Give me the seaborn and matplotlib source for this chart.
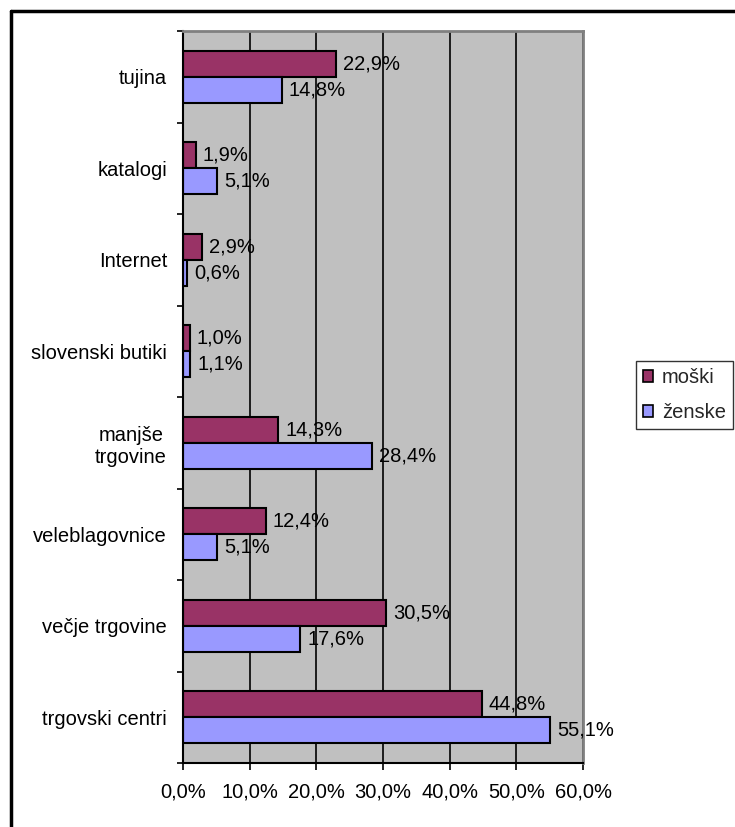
import matplotlib
matplotlib.use("Agg")
import matplotlib.pyplot as plt
import pandas as pd
import seaborn as sns
from matplotlib.lines import Line2D
from matplotlib.ticker import FuncFormatter, FixedLocator

# Data: share of respondents by shopping place, split by gender (in %)
kategorije = ["tujina", "katalogi", "Internet", "slovenski butiki",
              "manjše\ntrgovine", "veleblagovnice", "večje trgovine",
              "trgovski centri"]
spoli = ["moški", "ženske"]
moski = [22.9, 1.9, 2.9, 1.0, 14.3, 12.4, 30.5, 44.8]
zenske = [14.8, 5.1, 0.6, 1.1, 28.4, 5.1, 17.6, 55.1]
x_ticks = [0, 10, 20, 30, 40, 50, 60]
barve = ["#993366", "#9999FF"]

df = pd.DataFrame({
    "kategorija": kategorije * 2,
    "spol": [spoli[0]] * len(kategorije) + [spoli[1]] * len(kategorije),
    "delez": moski + zenske,
})


def pct(v, pos=None):
    return f"{v:.1f}%".replace(".", ",")


sns.set_theme(style="white")
plt.rcParams["font.family"] = ["Liberation Sans", "DejaVu Sans"]
FS = 14.5

W, H = 735, 827
fig = plt.figure(figsize=(W / 100, H / 100), dpi=100)
fig.patch.set_facecolor("white")
ax = fig.add_axes([183 / W, 1 - 763 / H, 400 / W, 732 / H])
ax.set_facecolor("#C0C0C0")

sns.barplot(data=df, y="kategorija", x="delez", hue="spol",
            order=kategorije, hue_order=spoli, palette=barve,
            orient="h", width=0.57, gap=0, saturation=1,
            edgecolor="black", linewidth=1.5, ax=ax)

for cont in ax.containers:
    ax.bar_label(cont, fmt=pct, padding=5, fontsize=FS, color="black")

ax.set_xlim(0, 60)
ax.set_ylim(len(kategorije) - 0.5, -0.5)
ax.set_xlabel("")
ax.set_ylabel("")

# x axis: percent ticks and vertical gridlines
ax.xaxis.set_major_locator(FixedLocator(x_ticks))
ax.xaxis.set_major_formatter(FuncFormatter(pct))
ax.tick_params(axis="x", bottom=True, length=5, width=1.2, color="black",
               direction="out", pad=9, labelsize=FS, labelcolor="black")
ax.xaxis.grid(True, color="black", linewidth=1.2)
ax.yaxis.grid(False)
ax.set_axisbelow(True)

# y axis: labels at category centres, tick marks at category boundaries
ax.set_yticks(range(len(kategorije)))
ax.set_yticklabels(kategorije, multialignment="center")
ax.yaxis.set_minor_locator(FixedLocator([i - 0.5 for i in range(len(kategorije) + 1)]))
ax.tick_params(axis="y", which="major", left=True, length=0, pad=11.5,
               labelsize=FS, labelcolor="black")
ax.tick_params(axis="y", which="minor", left=True, length=4.5, width=1.2,
               color="black", direction="out")

for side in ("left", "bottom"):
    ax.spines[side].set_color("black")
    ax.spines[side].set_linewidth(1.5)
for side in ("top", "right"):
    ax.spines[side].set_color("#808080")
    ax.spines[side].set_linewidth(2)

handles, labels = ax.get_legend_handles_labels()
leg = ax.legend(handles, labels, loc="upper left",
                bbox_to_anchor=(636 / W, 1 - 361 / H),
                bbox_transform=fig.transFigure, frameon=True, fancybox=False,
                edgecolor="black", facecolor="white", fontsize=FS,
                handlelength=0.5, handleheight=0.5, handletextpad=0.45,
                borderpad=0.35, labelspacing=0.8, borderaxespad=0)
leg.get_frame().set_linewidth(1.0)
for h in leg.legend_handles:
    h.set_edgecolor("black")
    h.set_linewidth(1.2)

# outer chart border (top and left edges)
fig.add_artist(Line2D([11 / W, 1], [1 - 11 / H, 1 - 11 / H],
                      transform=fig.transFigure, color="black", linewidth=2.5))
fig.add_artist(Line2D([11 / W, 11 / W], [0, 1 - 11 / H],
                      transform=fig.transFigure, color="black", linewidth=2.5))

fig.savefig("out.png", dpi=100)
